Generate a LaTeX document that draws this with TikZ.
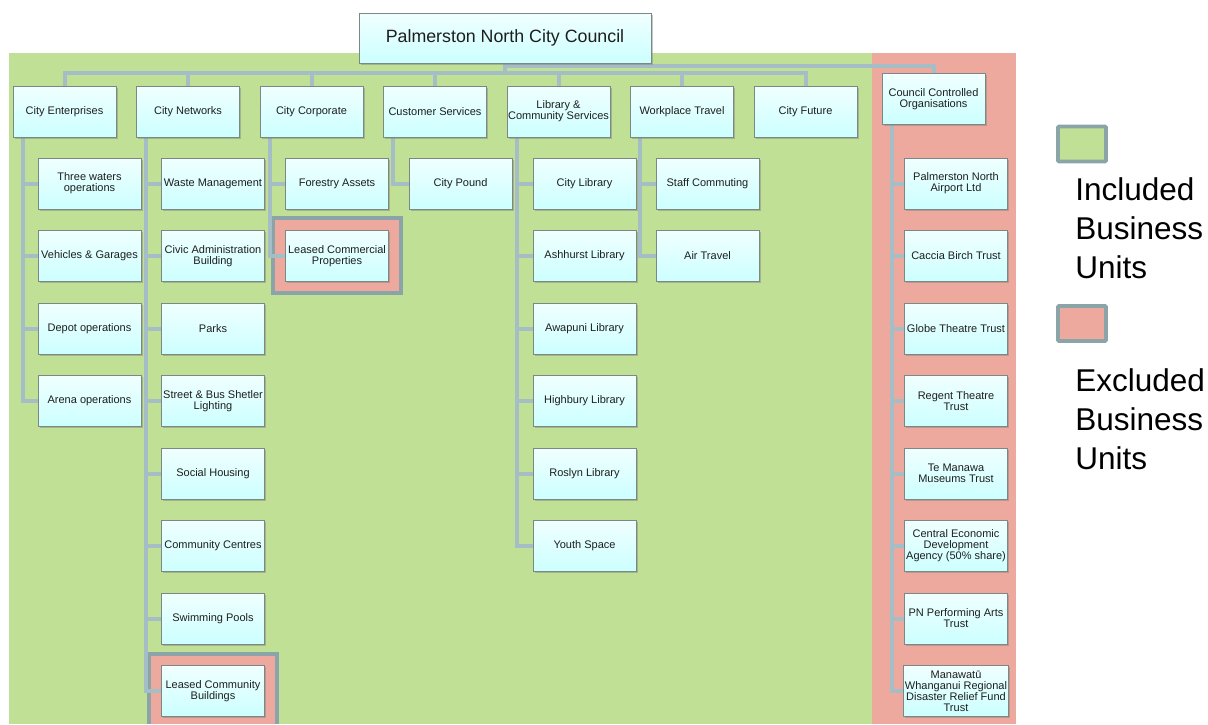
\documentclass[tikz,border=0pt]{standalone}
\usepackage{fontspec}
\setmainfont{Liberation Sans}
\usetikzlibrary{positioning,shadows,backgrounds}
\definecolor{pgreen}{RGB}{192,224,150}
\definecolor{pred}{RGB}{237,169,157}
\definecolor{linec}{RGB}{165,190,198}
\definecolor{hlc}{RGB}{139,164,168}
\definecolor{boxc}{RGB}{125,135,132}
\definecolor{txtc}{RGB}{30,30,30}
\definecolor{celltop}{RGB}{240,255,255}
\definecolor{cellbot}{RGB}{204,255,255}
\begin{document}
\begin{tikzpicture}[x=1pt,y=-1pt,
unit/.style={draw=boxc,line width=0.9pt,top color=celltop,bottom color=cellbot,
 drop shadow={shadow xshift=1.5pt,shadow yshift=-1.8pt,opacity=.45},
 minimum width=103pt,minimum height=51pt,inner sep=1pt,align=center,text=txtc,
 font=\fontsize{11}{11}\selectfont},
head/.style={unit,minimum width=292pt,minimum height=50pt,font=\fontsize{17.8}{20}\selectfont},
conn/.style={draw=linec,line width=4pt},
hlbord/.style={draw=hlc,line width=3.8pt,line join=miter},
legbox/.style={draw=hlc,line width=3.8pt,rounded corners=1pt,minimum width=48pt,
 minimum height=35pt,inner sep=0pt},
legtext/.style={align=left,inner sep=0pt,anchor=north west,font=\fontsize{31.5}{39}\selectfont}]
 \useasboundingbox (0,0) rectangle (1208,724);
 \coordinate (bot) at (0,724);
 \node[head] (pncc) at (505,38) {Palmerston North City Council};
 \foreach \n/\t [count=\i from 0] in {ce/City Enterprises,cn/City Networks,
 cc/City Corporate,cs/Customer Services,lc/{Library \&\\Community Services},
 wt/Workplace Travel,cf/City Future}
 \node[unit] (\n) at (64.5+123.5*\i,111.5) {\t};
 \node[unit] (cco) at (933.5,99) {Council Controlled\\Organisations};
 \foreach \t [count=\k] in {Three waters\\operations,Vehicles \& Garages,
 Depot operations,Arena operations}
 \node[unit] (ce\k) at (89.5,111+72.5*\k) {\t};
 \foreach \t [count=\k] in {Waste Management,Civic Administration\\Building,Parks,
 Street \& Bus Shetler\\Lighting,Social Housing,Community Centres,Swimming Pools,
 Leased Community\\Buildings}
 \node[unit] (cn\k) at (213,111+72.5*\k) {\t};
 \foreach \t [count=\k] in {Forestry Assets,Leased Commercial\\Properties}
 \node[unit] (cc\k) at (337,111+72.5*\k) {\t};
 \node[unit] (cs1) at (460.5,183.5) {City Pound};
 \foreach \t [count=\k] in {City Library,Ashhurst Library,Awapuni Library,
 Highbury Library,Roslyn Library,Youth Space}
 \node[unit] (lc\k) at (584.5,111+72.5*\k) {\t};
 \foreach \t [count=\k] in {Staff Commuting,Air Travel}
 \node[unit] (wt\k) at (707.5,111+72.5*\k) {\t};
 \foreach \t [count=\k] in {Palmerston North\\Airport Ltd,Caccia Birch Trust,
 Globe Theatre Trust,Regent Theatre\\Trust,Te Manawa\\Museums Trust,
 Central Economic\\Development\\Agency (50\% share),PN Performing Arts\\Trust,
 Manawatū\\Whanganui Regional\\Disaster Relief Fund\\Trust}
 \node[unit] (cco\k) at (956,111+72.5*\k) {\t};
 \node[legbox,fill=pgreen] (leginc) at (1082,144) {};
 \node[legtext] (inctext) at ([shift={(19,13.8)}]leginc.south west) {Included\\Business\\Units};
 \node[legbox,fill=pred] (legexc) at (1082,323.5) {};
 \node[legtext] (exctext) at ([shift={(19,25.9)}]legexc.south west) {Excluded\\Business\\Units};
 \begin{scope}[on background layer]
 \fill[pgreen] (9,53) rectangle (872,724);
 \fill[pred] (872,53) rectangle (1016,724);
 \draw[hlbord,fill=pred] ([shift={(-12,-12)}]cc2.north west) rectangle
 ([shift={(12,11)}]cc2.south east);
 \coordinate (lcbtl) at ([shift={(-12,-11)}]cn8.north west);
 \coordinate (lcbtr) at ([shift={(12,-11)}]cn8.north east);
 \fill[pred] (lcbtl) rectangle (lcbtr |- bot);
 \draw[hlbord] (lcbtl |- bot) -- (lcbtl) -- (lcbtr) -- (lcbtr |- bot);
 \foreach \n in {ce,cn,cc,cs,lc,wt,cf}
 \draw[conn] (pncc.south) -- ++(0,10) -| (\n.north);
 \draw[conn] ([yshift=-2.5pt]pncc.south) -| (cco.north);
 \foreach \n/\m in {ce/4,cn/8,cc/2,cs/1,lc/6,wt/2,cco/8}
 {\foreach \k in {1,...,\m}
 \draw[conn] ([xshift=10pt]\n.south west) |- (\n\k.west);}
 \end{scope}
\end{tikzpicture}
\end{document}
